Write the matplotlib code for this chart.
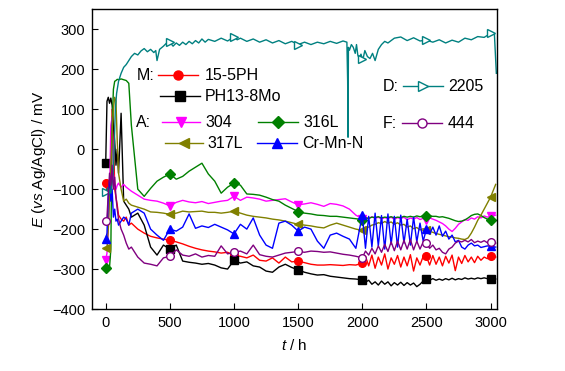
import matplotlib
matplotlib.use("Agg")
import matplotlib.pyplot as plt

plt.rcParams['font.family'] = ['Liberation Sans', 'DejaVu Sans']
plt.rcParams['mathtext.fontset'] = 'custom'
plt.rcParams['mathtext.it'] = 'Liberation Sans:italic'
plt.rcParams['mathtext.rm'] = 'Liberation Sans'

# shared time grid (h)
hours = [0, 10, 20, 30, 40, 50, 60, 70, 80, 90, 100, 120, 140, 160, 180, 200, 250,
         300, 350, 400, 450, 500, 550, 600, 650, 700, 750, 800, 850, 900, 950,
         1000, 1050, 1100, 1150, 1200, 1250, 1300, 1350, 1400, 1450, 1500, 1550,
         1600, 1650, 1700, 1750, 1800, 1850, 1900, 1950,
         2000, 2025, 2050, 2075, 2100, 2125, 2150, 2175, 2200, 2225,
         2250, 2275, 2300, 2325, 2350, 2375, 2400, 2425, 2450, 2475,
         2500, 2525, 2550, 2575, 2600, 2625, 2650, 2675, 2700, 2725,
         2750, 2775, 2800, 2825, 2850, 2875, 2900, 2925, 2950, 2975,
         3000, 3040]

e_155ph = [-85, -110, -95, -130, -60, 100, 60, -100, -120, -140, -165, -175, -180, -170, -190, -185, -200,
           -210, -218, -222, -225, -228, -232, -237, -243, -248, -252, -255, -257, -260, -258,
           -266, -268, -272, -265, -278, -280, -272, -285, -270, -282, -280, -284,
           -288, -290, -290, -289, -290, -291, -289, -290,
           -285, -268, -292, -265, -298, -270, -290, -262, -300, -272,
           -288, -266, -295, -270, -292, -264, -305, -272, -290, -268,
           -268, -290, -266, -288, -270, -292, -268, -285, -265, -304,
           -270, -286, -266, -282, -270, -284, -268, -278, -270, -274,
           -268, -270]
e_ph138 = [-35, 120, 130, 115, 128, 110, 60, 20, -40, 0, -60, 90, -130, -140, -150, -170, -160,
           -190, -245, -265, -240, -250, -240, -280, -283, -285, -288, -286, -290, -297, -300,
           -278, -285, -282, -292, -295, -305, -308, -295, -288, -296, -302, -308,
           -312, -315, -314, -318, -320, -322, -324, -325,
           -327, -333, -328, -338, -332, -340, -330, -338, -332, -342,
           -334, -340, -333, -341, -334, -340, -335, -344, -338, -330,
           -326, -328, -324, -328, -325, -328, -324, -327, -323, -327,
           -324, -326, -322, -325, -323, -325, -322, -324, -322, -324,
           -325, -325]
e_304 = [-278, -260, -200, -120, 60, 80, -60, -95, -100, -90, -85, -95, -88, -95, -100, -105, -115,
         -125, -128, -130, -135, -142, -133, -128, -132, -134, -131, -136, -133, -130, -128,
         -118, -128, -120, -122, -125, -130, -128, -126, -124, -132, -139, -137,
         -134, -138, -143, -136, -138, -142, -150, -165,
         -174, -170, -174, -169, -173, -170, -175, -171, -174, -170,
         -176, -171, -174, -170, -177, -172, -175, -171, -176, -173,
         -177, -172, -175, -178, -182, -186, -192, -200, -206, -198,
         -188, -182, -176, -178, -172, -175, -169, -172, -167, -170,
         -168, -165]
e_316l = [-297, -300, -298, -295, -250, 60, 150, 170, 172, 175, 174, 176, 174, 172, 165, 60, -100,
          -118, -98, -80, -70, -62, -75, -68, -55, -45, -35, -62, -80, -110, -95,
          -85, -90, -112, -113, -115, -120, -126, -130, -140, -148, -156, -160,
          -162, -165, -166, -168, -168, -170, -172, -174,
          -176, -172, -173, -170, -171, -169, -172, -170, -171, -169,
          -172, -170, -171, -168, -170, -168, -170, -167, -169, -167,
          -168, -167, -168, -168, -170, -169, -171, -173, -176, -179,
          -181, -180, -177, -172, -166, -163, -162, -166, -171, -175,
          -177, -178]
e_317l = [-247, -250, -200, -120, -40, 40, 100, 130, 120, 20, -60, -100, -130, -125, -135, -140, -145,
          -150, -157, -158, -160, -163, -160, -155, -157, -156, -155, -158, -158, -160, -158,
          -155, -160, -165, -168, -170, -172, -175, -177, -180, -184, -188, -190,
          -192, -195, -197, -190, -185, -190, -195, -200,
          -203, -196, -195, -190, -188, -184, -186, -181, -185, -182,
          -188, -184, -190, -188, -195, -192, -199, -196, -202, -199,
          -203, -206, -208, -211, -213, -215, -217, -219, -220, -222,
          -223, -225, -226, -222, -210, -195, -178, -165, -150, -135,
          -120, -88]
e_crmnn = [-225, -210, -120, -80, -130, -100, -170, -150, -180, -175, -190, -180, -170, -175, -190, -160, -150,
           -160, -200, -215, -228, -200, -205, -195, -162, -198, -192, -196, -188, -195, -202,
           -212, -188, -200, -172, -215, -240, -248, -185, -180, -190, -205, -195,
           -200, -230, -248, -215, -210, -218, -225, -248,
           -165, -248, -168, -245, -160, -242, -166, -250, -162, -238,
           -168, -245, -165, -235, -175, -240, -170, -232, -185, -230,
           -200, -212, -195, -215, -192, -218, -205, -225, -215, -232,
           -228, -245, -250, -240, -235, -242, -240, -246, -244, -242,
           -243, -245]
e_444 = [-180, -170, -110, -60, -90, -40, -100, -70, -120, -150, -175, -200, -215, -235, -250, -245, -270,
         -285, -288, -292, -272, -268, -252, -265, -268, -262, -270, -266, -268, -242, -262,
         -258, -255, -262, -240, -264, -268, -270, -265, -260, -258, -256, -258,
         -255, -256, -258, -257, -260, -263, -265, -268,
         -272, -255, -265, -248, -262, -242, -258, -238, -256, -232,
         -254, -230, -252, -228, -250, -226, -252, -230, -250, -232,
         -235, -248, -240, -252, -248, -258, -262, -250, -245, -235,
         -230, -232, -228, -232, -226, -234, -230, -233, -229, -234,
         -233, -235]

# 2205 has its own time points (sharp drop near 1890 h)
hours_2205 = [0, 20, 40, 60, 75, 85, 100, 120, 140, 160,
              180, 200, 225, 250, 275, 300, 325, 350, 375, 390,
              400, 420, 450, 475, 500, 525, 550, 575, 600, 625,
              650, 675, 700, 725, 750, 775, 800, 850, 900, 950,
              1000, 1025, 1050, 1100, 1150, 1200, 1250, 1300, 1350, 1400,
              1450, 1500, 1550, 1600, 1650, 1700, 1750, 1800, 1850, 1880,
              1886, 1889, 1892, 1900, 1915, 1930, 1945, 1955, 1965, 1975,
              1990, 2000, 2010, 2020, 2040, 2060, 2080, 2100, 2125, 2150,
              2175, 2200, 2250, 2300, 2350, 2400, 2450, 2500, 2550, 2600,
              2650, 2700, 2750, 2800, 2850, 2900, 2950, 3000, 3030, 3045]
e_2205 = [-106, -95, -110, -60, 100, 140, 170, 190, 205, 212,
          222, 232, 240, 236, 246, 252, 244, 250, 242, 247,
          222, 250, 258, 266, 268, 258, 266, 260, 268, 262,
          270, 264, 272, 266, 276, 268, 275, 270, 278, 271,
          281, 274, 278, 270, 276, 268, 274, 266, 272, 264,
          270, 262, 268, 262, 268, 264, 270, 265, 271, 268,
          170, 30, 255, 248, 262, 255, 240, 262, 236, 228,
          238, 226, 232, 247, 232, 227, 240, 222, 250, 262,
          270, 266, 278, 281, 272, 279, 271, 273, 268, 274,
          266, 273, 268, 278, 274, 282, 280, 290, 288, 190]

marker_hours = [0, 500, 1000, 1500, 2000, 2500, 3000]
mk_grid = [hours.index(h) for h in marker_hours]
mk_2205 = [hours_2205.index(h) for h in marker_hours]

series = [
    (hours, e_155ph, '#ff0000', 'o', '#ff0000', mk_grid),
    (hours, e_ph138, '#000000', 's', '#000000', mk_grid),
    (hours, e_304, '#ff00ff', 'v', '#ff00ff', mk_grid),
    (hours, e_316l, '#008000', 'D', '#008000', mk_grid),
    (hours, e_317l, '#808000', '<', '#808000', mk_grid),
    (hours, e_crmnn, '#0000ff', '^', '#0000ff', mk_grid),
    (hours_2205, e_2205, '#008080', '>', 'white', mk_2205),
    (hours, e_444, '#800080', 'o', 'white', mk_grid),
]

fig = plt.figure(figsize=(5.65, 3.71), dpi=100)
ax = fig.add_axes([0.1628, 0.1671, 0.7168, 0.8086])

for t, e, c, m, fc, mk in series:
    ax.plot(t, e, color=c, lw=1.0, marker=m, markersize=5.5, mfc=fc, mec=c,
            mew=1.0, markevery=mk)

ax.set_xlim(-107, 3050)
ax.set_ylim(-400, 351)
ax.set_xticks(range(0, 3001, 500))
ax.set_yticks(range(-400, 301, 100))
ax.tick_params(direction='in', length=4, labelsize=10.5, top=False, right=False, pad=5)
for s in ax.spines.values():
    s.set_linewidth(1.0)

ax.set_xlabel(r"$t$ / h", fontsize=11, labelpad=6)
ax.set_ylabel(r"$E$ ($vs$ Ag/AgCl) / mV", fontsize=11, labelpad=3)

# hand-made legend inside the axes
tr = ax.transAxes
fs = 11.5
def entry(x0, x1, y, c, m, fc, label, tx):
    ax.plot([x0, x1], [y, y], color=c, lw=1.0, transform=tr, clip_on=False)
    ax.plot([(x0 + x1) / 2], [y], marker=m, markersize=6.5, color=c, mfc=fc, mec=c,
            transform=tr, clip_on=False)
    ax.text(tx, y, label, transform=tr, fontsize=fs, va='center', ha='left')

ax.text(0.111, 0.78, "M:", transform=tr, fontsize=fs, va='center')
entry(0.163, 0.262, 0.78, '#ff0000', 'o', '#ff0000', "15-5PH", 0.279)
entry(0.168, 0.267, 0.71, '#000000', 's', '#000000', "PH13-8Mo", 0.279)
ax.text(0.109, 0.623, "A:", transform=tr, fontsize=fs, va='center')
entry(0.173, 0.267, 0.623, '#ff00ff', 'v', '#ff00ff', "304", 0.281)
entry(0.410, 0.509, 0.623, '#008000', 'D', '#008000', "316L", 0.521)
entry(0.180, 0.274, 0.553, '#808000', '<', '#808000', "317L", 0.286)
entry(0.407, 0.506, 0.553, '#0000ff', '^', '#0000ff', "Cr-Mn-N", 0.519)
ax.text(0.719, 0.743, "D:", transform=tr, fontsize=fs, va='center')
entry(0.768, 0.867, 0.743, '#008080', '>', 'white', "2205", 0.879)
ax.text(0.719, 0.62, "F:", transform=tr, fontsize=fs, va='center')
entry(0.765, 0.864, 0.62, '#800080', 'o', 'white', "444", 0.877)

fig.savefig("out.png", dpi=100)
